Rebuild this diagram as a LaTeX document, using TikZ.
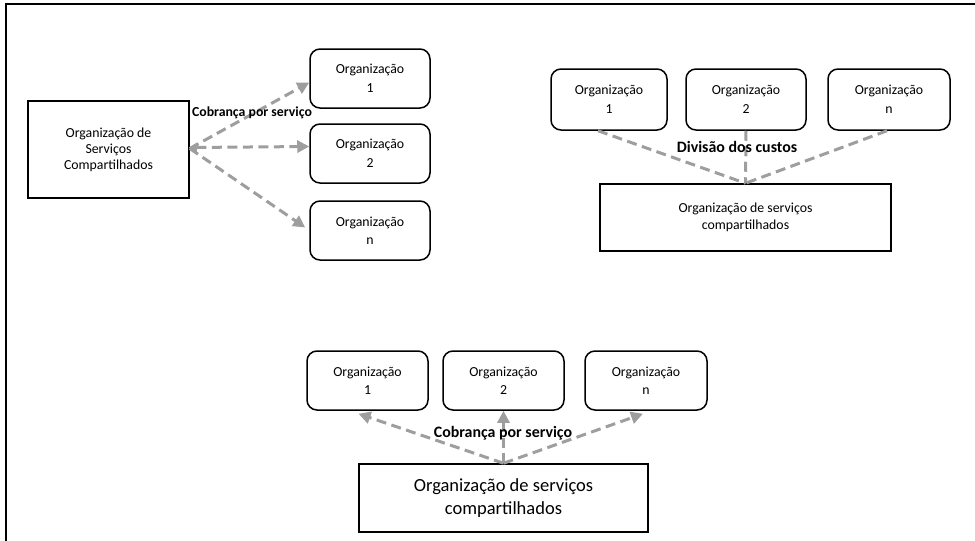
\documentclass[tikz,border=0pt]{standalone}
\usepackage{fontspec}
\setmainfont{Carlito}
\usetikzlibrary{arrows.meta}
\definecolor{dgray}{RGB}{158,158,158}
\begin{document}
\begin{tikzpicture}[x=1pt,y=-1pt,
  txt/.style={font=\fontsize{13.8}{16}\selectfont, align=center, text=black},
  orgbox/.style={txt, font=\fontsize{13.8}{18.5}\selectfont, draw=black, line width=1.5pt, rounded corners=10pt, minimum width=120pt, minimum height=59pt, inner sep=0pt},
  mainbox/.style={txt, draw=black, line width=1.5pt, inner sep=0pt},
  dashln/.style={draw=dgray, line width=3pt, dash pattern=on 10pt off 5.5pt},
  arr/.style={dashln, -{Triangle[length=12pt,width=12pt]}},
  lbl/.style={font=\fontsize{13.8}{17}\selectfont\bfseries, inner sep=0pt, text=black},
  biglbl/.style={font=\fontsize{15.9}{19}\selectfont\bfseries, inner sep=0pt, text=black}
]
\useasboundingbox (0,0) rectangle (975,541);
\draw[line width=2pt] (6,541) -- (6,4) -- (975,4);

% top-left
\node[mainbox, minimum width=161pt, minimum height=97pt] (src1) at (108.5,149.5) {Organização de\\Serviços\\Compartilhados};
\node[orgbox] (a1) at (370,78.5) {Organização\\1};
\node[orgbox] (a2) at (370,153.5) {Organização\\2};
\node[orgbox] (an) at (370,230.5) {Organização\\n};
\draw[arr] ([yshift=1pt]src1.east) -- ([yshift=-4pt]a1.west);
\draw[dashln, {Triangle[length=7pt,width=9pt]}-{Triangle[length=12pt,width=12pt]}] ([yshift=2pt]src1.east) -- ([yshift=7pt]a2.west);
\draw[arr] ([yshift=1pt]src1.east) -- ([xshift=-4pt,yshift=3pt]an.west);
\node[lbl] (l1) at (252,113) {Cobrança por serviço};

% top-right
\node[orgbox, minimum width=116pt, minimum height=61pt] (b1) at (609,99.5) {Organização\\1};
\node[orgbox, minimum height=61pt] (b2) at (746,99.5) {Organização\\2};
\node[orgbox, minimum width=122pt, minimum height=61pt] (bn) at (889,99.5) {Organização\\n};
\node[mainbox, minimum width=291pt, minimum height=67pt, font=\fontsize{13.8}{17}\selectfont] (src2) at (745.5,217.5) {Organização de serviços\\compartilhados};
\draw[dashln] ([xshift=-11pt]b1.south) -- (src2.north);
\draw[dashln] (b2.south) -- (src2.north);
\draw[dashln] ([xshift=-2pt]bn.south) -- (src2.north);
\node[biglbl] (l2) at (737,147) {Divisão dos custos};

% bottom
\node[orgbox, minimum width=121pt] (c1) at (367.5,380.5) {Organização\\1};
\node[orgbox, minimum width=121pt] (c2) at (503.5,380.5) {Organização\\2};
\node[orgbox, minimum width=122pt] (cn) at (646,380.5) {Organização\\n};
\node[mainbox, minimum width=289pt, minimum height=68pt, font=\fontsize{18.5}{23}\selectfont] (src3) at (503.5,498) {Organização de serviços\\compartilhados};
\draw[arr] (src3.north) -- ([xshift=-9pt,yshift=-3pt]c1.south);
\draw[arr] (src3.north) -- (c2.south);
\draw[arr] (src3.north) -- ([xshift=-3pt,yshift=-3pt]cn.south);
\node[biglbl] (l3) at (503,433) {Cobrança por serviço};
\end{tikzpicture}
\end{document}
